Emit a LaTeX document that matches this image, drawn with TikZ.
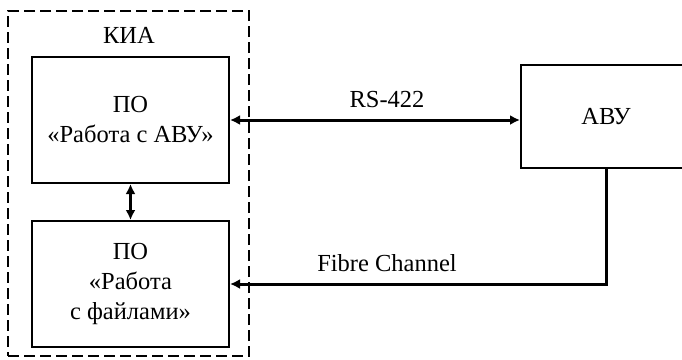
\documentclass[tikz,border=0pt]{standalone}
\usepackage{fontspec}
\setmainfont{Liberation Serif}
\usetikzlibrary{arrows.meta}
\usetikzlibrary{positioning}

\tikzset{
  blk/.style={draw, line width=2pt, align=center, minimum width=197pt, minimum height=126pt, inner sep=0pt},
  frame/.style={draw, line width=1.8pt, dash pattern=on 11pt off 5pt, minimum width=241pt, minimum height=345pt, inner sep=0pt},
  link/.style={line width=3pt, arrows={Latex[length=10pt,width=10pt]-Latex[length=10pt,width=10pt]}},
  tolink/.style={line width=3pt, -{Latex[length=10pt,width=10pt]}},
}

\begin{document}
\begin{tikzpicture}[x=1pt, y=-1pt, font=\fontsize{24.5}{30}\selectfont]

\useasboundingbox (0,0) rectangle (682,359);

%================ KIA ==================
\node[frame] (kiabox) at (128.5,183.5) {};
\node (kia) at (129,35) {КИА};

\node[blk] (po1) at (130.5,120) {ПО\\«Работа с АВУ»};
\node[blk] (po2) at (130.5,284) {ПО\\«Работа\\с файлами»};

%================ ABU ==================
\node[blk, minimum width=170pt, minimum height=103pt] (abu) at (606,116.5) {АВУ};

%================ ARROWS ==================
\draw[link] (po1.south) -- (po2.north);
\draw[link] (po1.east) -- (po1.east -| abu.west);
\draw[tolink] (abu.south) |- (po2.east);

%================ LABELS ==================
\node (rs) at (387,100) {RS-422};
\node (fc) at (387,263) {Fibre Channel};

\end{tikzpicture}
\end{document}
